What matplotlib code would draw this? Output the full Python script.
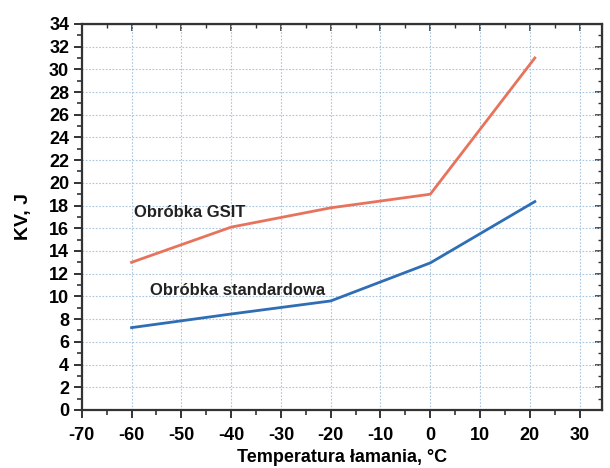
import matplotlib
matplotlib.use("Agg")
import matplotlib.pyplot as plt
from matplotlib.ticker import MultipleLocator

plt.rcParams['font.family'] = ['Liberation Sans', 'DejaVu Sans']
plt.rcParams['font.weight'] = 'bold'
plt.rcParams['axes.unicode_minus'] = False

temps = [-60, -40, -20, 0, 21]
kv_gsit = [13.0, 16.1, 17.8, 19.0, 31.0]
kv_std = [7.25, 8.45, 9.6, 12.95, 18.35]

label_gsit = "Obróbka GSIT"
label_std = "Obróbka standardowa"

fig = plt.figure(figsize=(6.1, 4.68), dpi=100)
ax = fig.add_axes([0.134, 0.124, 0.853, 0.825])

ax.plot(temps, kv_gsit, color='#e8735c', lw=2.0)
ax.plot(temps, kv_std, color='#2f6db5', lw=2.0)

ax.text(-59.6, 17.0, label_gsit, fontsize=12, fontweight='bold', color='#222222')
ax.text(-56.2, 10.1, label_std, fontsize=12, fontweight='bold', color='#222222')

ax.set_xlim(-70, 34.5)
ax.set_ylim(0, 34)
ax.xaxis.set_major_locator(MultipleLocator(10))
ax.xaxis.set_minor_locator(MultipleLocator(5))
ax.yaxis.set_major_locator(MultipleLocator(2))
ax.yaxis.set_minor_locator(MultipleLocator(1))

ax.grid(True, which='major', color='#a9c6de', linestyle=(0, (1.5, 1.5)), lw=0.8)
for s in ax.spines.values():
    s.set_color('#333333')
    s.set_linewidth(1.6)

ax.tick_params(axis='both', which='major', length=6, width=1.4, color='#333333',
               labelsize=13, direction='out')
ax.tick_params(axis='both', which='minor', length=3.5, width=1.2, color='#333333',
               direction='out')
ax.tick_params(axis='x', which='major', pad=6)
ax.tick_params(axis='y', which='major', pad=3)

# top/right ticks point inward
ax2 = ax.secondary_xaxis('top')
ax2.xaxis.set_major_locator(MultipleLocator(10))
ax2.xaxis.set_minor_locator(MultipleLocator(5))
ax2.tick_params(direction='in', which='major', length=5, width=1.2, colors='#333333')
ax2.tick_params(direction='in', which='minor', length=3, width=1.0, colors='#333333')
ax2.set_xticklabels([])
ax3 = ax.secondary_yaxis('right')
ax3.yaxis.set_major_locator(MultipleLocator(2))
ax3.yaxis.set_minor_locator(MultipleLocator(1))
ax3.tick_params(direction='in', which='major', length=5, width=1.2, colors='#333333')
ax3.tick_params(direction='in', which='minor', length=3, width=1.0, colors='#333333')
ax3.set_yticklabels([])

ax.set_xlabel("Temperatura łamania, °C", fontsize=13, fontweight='bold', labelpad=4)
ax.set_ylabel("KV, J", fontsize=14, fontweight='bold', labelpad=12)

fig.savefig("out.png", dpi=100)
